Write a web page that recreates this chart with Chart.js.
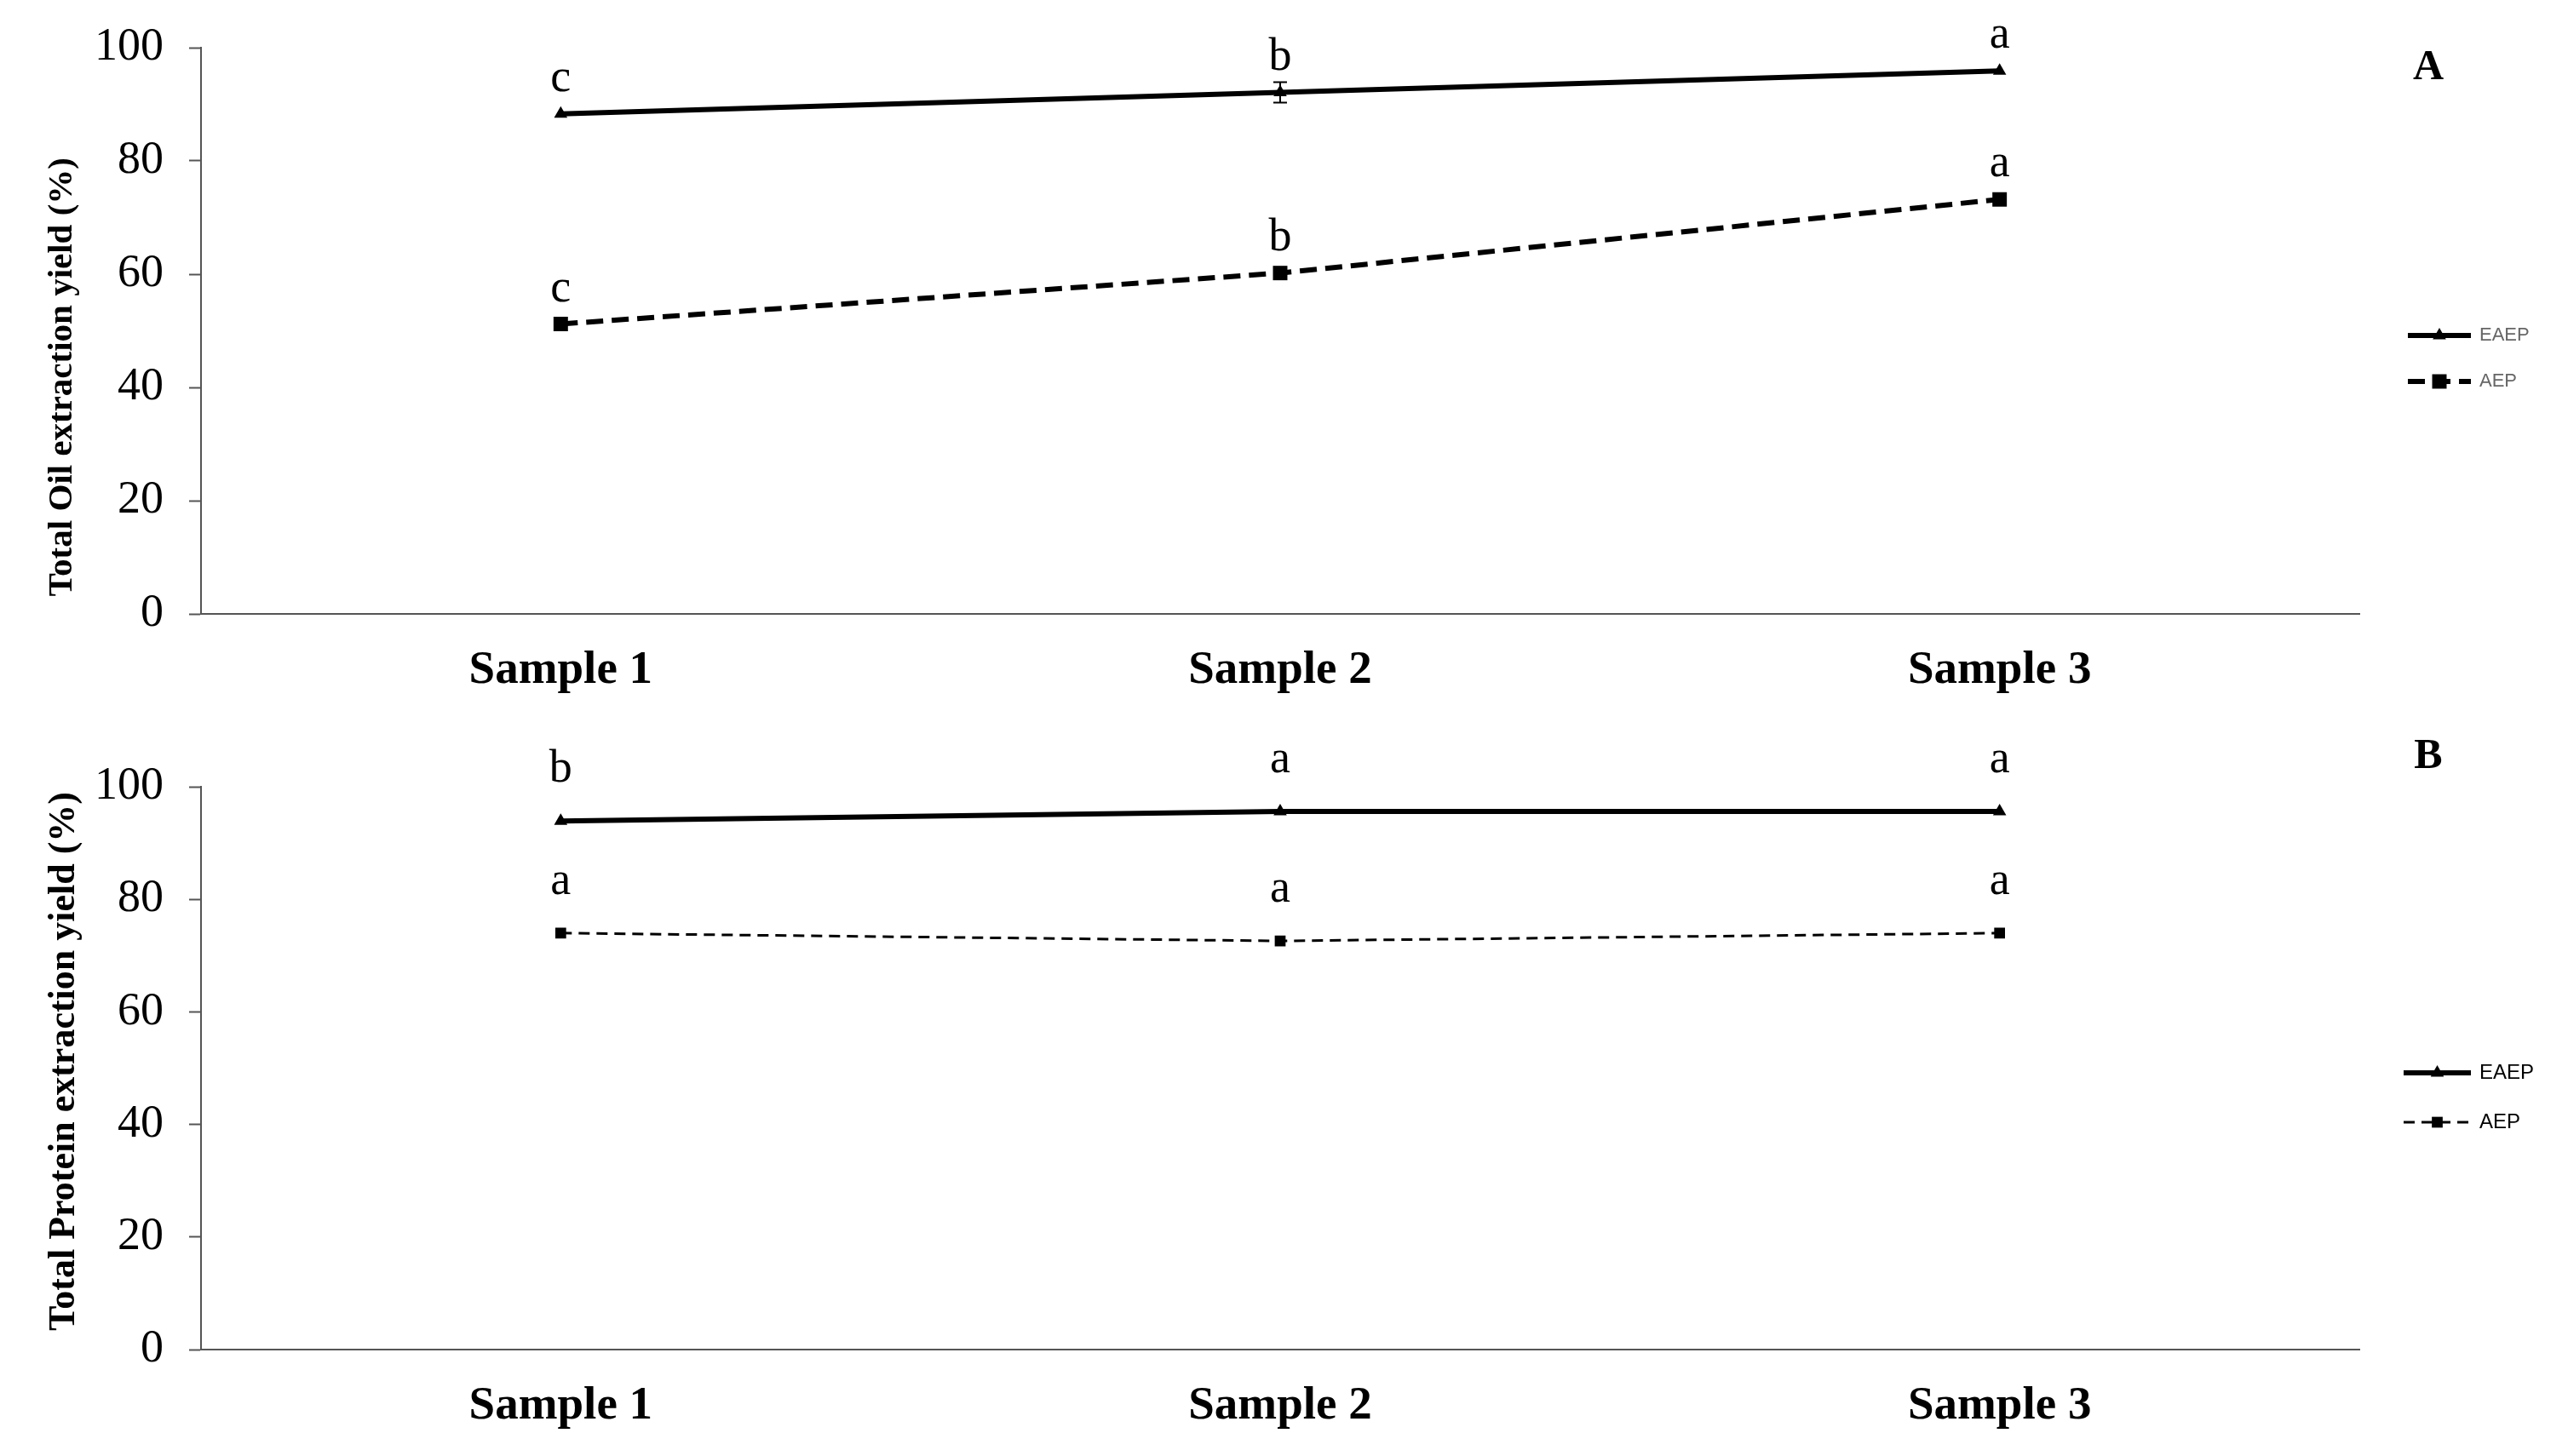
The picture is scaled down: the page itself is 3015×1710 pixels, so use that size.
<!DOCTYPE html>
<html>
<head>
<meta charset="utf-8">
<script src="https://cdn.jsdelivr.net/npm/chart.js@4.4.1/dist/chart.umd.min.js"></script>
<style>
  html, body { margin: 0; padding: 0; background: #fff; }
  .panel { position: absolute; left: 0; width: 3015px; height: 855px; }
  #panelA { top: 0; }
  #panelB { top: 855px; }
</style>
</head>
<body>
<div class="panel" id="panelA"><canvas id="chartA"></canvas></div>
<div class="panel" id="panelB"><canvas id="chartB"></canvas></div>
<script>
// categories
const samples = ['Sample 1', 'Sample 2', 'Sample 3'];
const yTicks = [0, 20, 40, 60, 80, 100];

// panel A - oil yield (%)
const oilEAEP = [88.3, 92.1, 95.9];
const oilAEP = [51.2, 60.2, 73.2];
const oilEAEPErr = [0, 1.8, 0];
const oilAEPErr = [0, 0, 0];
const oilEAEPLetters = ['c', 'b', 'a'];
const oilAEPLetters = ['c', 'b', 'a'];

// panel B - protein yield (%)
const proteinEAEP = [93.9, 95.6, 95.6];
const proteinAEP = [74.0, 72.6, 74.0];
const proteinEAEPLetters = ['b', 'a', 'a'];
const proteinAEPLetters = ['a', 'a', 'a'];

const SERIF = '"Liberation Serif", "Times New Roman", serif';
const SANS = '"Liberation Sans", Arial, sans-serif';
const AXIS = '#555555';

// error bars, significance letters, panel tag and a hand-drawn legend
const extras = {
  id: 'extras',
  afterDatasetsDraw(chart, args, opts) {
    const ctx = chart.ctx;
    const ys = chart.scales.y;
    ctx.save();
    chart.data.datasets.forEach((ds, i) => {
      const meta = chart.getDatasetMeta(i);
      meta.data.forEach((pt, j) => {
        const e = ds.errors ? ds.errors[j] : 0;
        if (e) {
          const top = ys.getPixelForValue(ds.data[j] + e);
          const bot = ys.getPixelForValue(ds.data[j] - e);
          ctx.strokeStyle = '#000';
          ctx.lineWidth = 2;
          ctx.setLineDash([]);
          ctx.beginPath();
          ctx.moveTo(pt.x, top); ctx.lineTo(pt.x, bot);
          ctx.moveTo(pt.x - 8, top); ctx.lineTo(pt.x + 8, top);
          ctx.moveTo(pt.x - 8, bot); ctx.lineTo(pt.x + 8, bot);
          ctx.stroke();
        }
        if (ds.letters) {
          ctx.fillStyle = '#000';
          ctx.font = opts.letterSize + 'px ' + SERIF;
          ctx.textAlign = 'center';
          ctx.textBaseline = 'alphabetic';
          ctx.fillText(ds.letters[j], pt.x, pt.y - opts.letterGap);
        }
      });
    });

    // panel tag
    ctx.fillStyle = '#000';
    ctx.font = 'bold 50px ' + SERIF;
    ctx.textAlign = 'center';
    ctx.textBaseline = 'middle';
    ctx.fillText(opts.tag, opts.tagX, opts.tagY);

    // legend
    chart.data.datasets.forEach((ds, i) => {
      const y = opts.legendRows[i];
      ctx.strokeStyle = '#000';
      ctx.lineWidth = ds.borderWidth;
      ctx.setLineDash(ds.borderDash || []);
      ctx.beginPath();
      ctx.moveTo(opts.legendX0, y);
      ctx.lineTo(opts.legendX1, y);
      ctx.stroke();
      ctx.setLineDash([]);
      ctx.fillStyle = '#000';
      Chart.helpers.drawPoint(ctx, {
        pointStyle: ds.pointStyle, radius: ds.pointRadius, rotation: 0, borderWidth: 0
      }, (opts.legendX0 + opts.legendX1) / 2, y);
      ctx.fillStyle = opts.legendColor;
      ctx.font = opts.legendSize + 'px ' + SANS;
      ctx.textAlign = 'left';
      ctx.textBaseline = 'middle';
      ctx.fillText(ds.label, opts.legendX1 + 10, y);
    });
    ctx.restore();
  }
};

function makeOptions(title, titleSize, top, xHeight, extraOpts) {
  return {
    responsive: true,
    maintainAspectRatio: false,
    animation: false,
    devicePixelRatio: 1,
    layout: { padding: { left: 0, right: 245, top: top, bottom: 0 } },
    plugins: {
      legend: { display: false },
      tooltip: { enabled: false },
      extras: extraOpts
    },
    scales: {
      x: {
        offset: true,
        grid: { display: false, drawTicks: false },
        border: { color: AXIS, width: 2 },
        ticks: { color: '#000', padding: 34, font: { family: SERIF, size: 55, weight: 'bold' } },
        afterFit(s) { s.height = xHeight; }
      },
      y: {
        min: 0,
        max: 100,
        afterBuildTicks(s) { s.ticks = yTicks.map(v => ({ value: v })); },
        grid: { drawOnChartArea: false, drawTicks: true, tickLength: 14, color: AXIS, tickWidth: 2 },
        border: { color: AXIS, width: 2 },
        ticks: { color: '#000', padding: 30, font: { family: SERIF, size: 54 } },
        title: {
          display: true, text: '\u2002' + title, align: 'start', color: '#000',
          font: { family: SERIF, size: titleSize, weight: 'bold' },
          padding: { top: 49, bottom: 0 }
        },
        afterFit(s) {
          s.width = 236;
          s.paddingTop = 0;
          s.paddingBottom = 0;
        }
      }
    }
  };
}

new Chart(document.getElementById('chartA'), {
  type: 'line',
  data: {
    labels: samples,
    datasets: [
      {
        label: 'EAEP', data: oilEAEP, errors: oilEAEPErr, letters: oilEAEPLetters,
        borderColor: '#000', backgroundColor: '#000', borderWidth: 6,
        pointStyle: 'triangle', pointRadius: 9, pointBackgroundColor: '#000', pointBorderWidth: 0
      },
      {
        label: 'AEP', data: oilAEP, errors: oilAEPErr, letters: oilAEPLetters,
        borderColor: '#000', backgroundColor: '#000', borderWidth: 6, borderDash: [20, 10],
        pointStyle: 'rect', pointRadius: 12, pointBackgroundColor: '#000', pointBorderWidth: 0
      }
    ]
  },
  options: makeOptions('Total Oil extraction yield (%)', 41, 56, 134, {
    letterSize: 54, letterGap: 27,
    tag: 'A', tagX: 2851, tagY: 80,
    legendRows: [394, 448], legendX0: 2827, legendX1: 2901,
    legendSize: 22, legendColor: '#666666'
  }),
  plugins: [extras]
});

new Chart(document.getElementById('chartB'), {
  type: 'line',
  data: {
    labels: samples,
    datasets: [
      {
        label: 'EAEP', data: proteinEAEP, letters: proteinEAEPLetters,
        borderColor: '#000', backgroundColor: '#000', borderWidth: 6,
        pointStyle: 'triangle', pointRadius: 9, pointBackgroundColor: '#000', pointBorderWidth: 0
      },
      {
        label: 'AEP', data: proteinAEP, letters: proteinAEPLetters,
        borderColor: '#000', backgroundColor: '#000', borderWidth: 3, borderDash: [13, 8],
        pointStyle: 'rect', pointRadius: 9, pointBackgroundColor: '#000', pointBorderWidth: 0
      }
    ]
  },
  options: makeOptions('Total Protein extraction yield (%)', 44, 69, 125, {
    letterSize: 54, letterGap: 46,
    tag: 'B', tagX: 2851, tagY: 34,
    legendRows: [405, 463], legendX0: 2822, legendX1: 2901,
    legendSize: 24, legendColor: '#000000'
  }),
  plugins: [extras]
});
</script>
</body>
</html>
